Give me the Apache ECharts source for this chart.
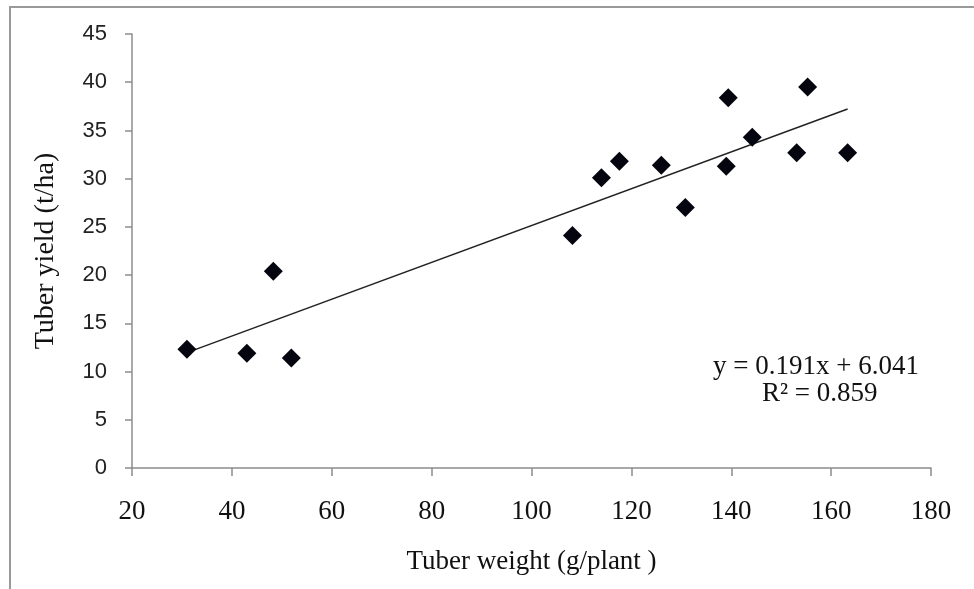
<!DOCTYPE html>
<html lang="en">
<head>
    <meta charset="UTF-8">
    <title>Tuber yield vs tuber weight</title>
    <style>
        html, body { margin: 0; padding: 0; background: #fff; }
        #main { width: 974px; height: 589px; }
    </style>
    <script src="https://cdn.jsdelivr.net/npm/echarts@6/dist/echarts.min.js"></script>
</head>
<body>
<div id="main"></div>
<script>
// tuber weight (g/plant) and tuber yield (t/ha)
var weights = [31.0, 43.0, 48.3, 51.9, 108.2, 114.0, 117.6, 126.0, 130.8, 139.4, 139.0, 144.2, 153.1, 155.3, 163.3];
var yields  = [12.3, 11.9, 20.4, 11.4, 24.1, 30.1, 31.8, 31.4, 27.0, 38.4, 31.3, 34.3, 32.7, 39.5, 32.7];

// linear trend as printed on the chart
var slope = 0.191;
var intercept = 6.041;
var r2 = 0.859;
var trendX = [31.0, 163.3];

var points = [];
for (var i = 0; i < weights.length; i++) {
    points.push([weights[i], yields[i]]);
}
var trend = trendX.map(function (x) { return [x, slope * x + intercept]; });

var serif = '"Liberation Serif", "Times New Roman", serif';
var sans = '"Liberation Sans", Arial, sans-serif';
var axisGrey = '#8c8c8c';

var chart = echarts.init(document.getElementById('main'));
var option = {
    backgroundColor: '#fff',
    animation: false,
    grid: { left: 132, top: 34, right: 43, bottom: 121, outerBoundsMode: 'none' },
    xAxis: {
        type: 'value',
        min: 20, max: 180, interval: 20,
        name: 'Tuber weight (g/plant )',
        nameLocation: 'middle',
        nameGap: 80,
        nameTextStyle: { fontFamily: serif, fontSize: 27, color: '#111' },
        axisLine: { show: true, lineStyle: { color: axisGrey, width: 1.5 } },
        axisTick: { show: true, length: 8, lineStyle: { color: axisGrey, width: 1.5 } },
        axisLabel: { fontFamily: serif, fontSize: 27, color: '#111', margin: 30 },
        splitLine: { show: false }
    },
    yAxis: {
        type: 'value',
        min: 0, max: 45, interval: 5,
        name: 'Tuber yield (t/ha)',
        nameLocation: 'middle',
        nameGap: 72,
        nameTextStyle: { fontFamily: serif, fontSize: 28, color: '#111' },
        axisLine: { show: true, lineStyle: { color: axisGrey, width: 1.5 } },
        axisTick: { show: true, length: 7, lineStyle: { color: axisGrey, width: 1.5 } },
        axisLabel: { fontFamily: sans, fontSize: 22, color: '#222', margin: 25 },
        splitLine: { show: false }
    },
    series: [
        {
            type: 'line',
            data: trend,
            showSymbol: false,
            lineStyle: { color: '#222', width: 1.5 },
            z: 2
        },
        {
            type: 'scatter',
            data: points,
            symbol: 'diamond',
            symbolSize: 19,
            itemStyle: { color: '#05050f', opacity: 1 },
            z: 3
        }
    ],
    graphic: [
        {
            type: 'rect',
            shape: { x: 10, y: 7, width: 1200, height: 1000 },
            style: { fill: 'none', stroke: '#999', lineWidth: 2 },
            silent: true
        },
        {
            type: 'text',
            left: 713, top: 353,
            style: {
                text: 'y = 0.191x + 6.041',
                font: '27px ' + serif,
                fill: '#111'
            }
        },
        {
            type: 'text',
            left: 762, top: 380,
            style: {
                text: 'R\u00b2 = ' + r2,
                font: '27px ' + serif,
                fill: '#111'
            }
        }
    ]
};
chart.setOption(option);
</script>
</body>
</html>
